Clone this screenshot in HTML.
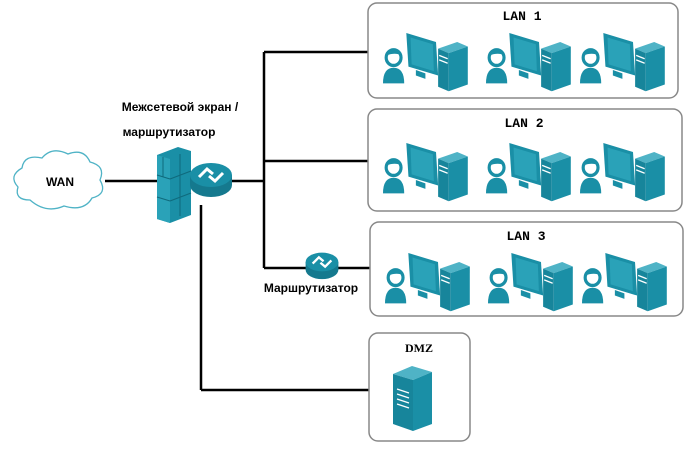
<!DOCTYPE html>
<html><head><meta charset="utf-8"><style>
body{margin:0;background:#fff;width:700px;height:446px;overflow:hidden}
text{font-family:"Liberation Sans",sans-serif}
</style></head><body>
<svg width="700" height="446" viewBox="0 0 700 446" xmlns="http://www.w3.org/2000/svg">
<defs>
<g id="pc0">
 <circle cx="10" cy="22" r="7" fill="#fff" stroke="#1a8fa6" stroke-width="3"/>
 <path d="M3 20 Q5 13 12 14 Q17 15 17 20 Q12 17 3 20Z" fill="#1a8fa6"/>
 <path d="M0 45 Q0 31 10 31 Q20 31 20 45Z" fill="#1a8fa6"/>
 <path d="M22 0 L50 8 L52 38 L24 30Z" fill="#1a8fa6"/>
 <path d="M26 4 L47 10 L48 34 L27 28Z" fill="#2aa2b8"/>
 <path d="M31 33 L40 36 L40 41 L31 38Z" fill="#1a8fa6"/>
 <path d="M52 14 L70 8 L80 12 L62 18Z" fill="#4fb3c6"/>
 <path d="M52 14 L62 18 L62 52 L52 48Z" fill="#17859b"/>
 <path d="M62 18 L80 12 L80 46 L62 52Z" fill="#1a8fa6"/>
 <line x1="53" y1="20" x2="61" y2="23" stroke="#fff" stroke-width="1.2"/>
 <line x1="53" y1="24" x2="61" y2="27" stroke="#fff" stroke-width="1.2"/>
</g>
<g id="pc"><g transform="translate(0 -3) scale(1.06 1.12)"><use href="#pc0"/></g></g>
<g id="router">
 <ellipse cx="0" cy="10" rx="21" ry="12" fill="#15798e"/>
 <rect x="-21" y="0" width="42" height="10" fill="#15798e"/>
 <ellipse cx="0" cy="0" rx="21" ry="12" fill="#1a8fa6"/>
 <path d="M-12 2 L-4 -6 L2 -1 M12 -2 L4 6 L-2 1" stroke="#fff" stroke-width="3" fill="none"/>
</g>
</defs>

<g stroke="#000" stroke-width="2.5" fill="none">
 <line x1="105" y1="181" x2="158" y2="181"/>
 <line x1="232" y1="181" x2="264" y2="181"/>
 <line x1="264" y1="52" x2="264" y2="268"/>
 <line x1="264" y1="52" x2="368" y2="52"/>
 <line x1="264" y1="161" x2="368" y2="161"/>
 <line x1="264" y1="268" x2="370" y2="268"/>
 <line x1="201" y1="205" x2="201" y2="390"/>
 <line x1="201" y1="390" x2="369" y2="390"/>
</g>

<g fill="#fff" stroke="#888" stroke-width="1.5">
 <rect x="368" y="3" width="310" height="95" rx="9"/>
 <rect x="368" y="109" width="314" height="102" rx="9"/>
 <rect x="370" y="222" width="313" height="94" rx="9"/>
 <rect x="369" y="333" width="101" height="108" rx="9"/>
</g>
<g font-weight="bold" font-size="13" text-anchor="middle">
 <text x="522" y="20" style="font-family:'Liberation Mono',monospace">LAN 1</text>
 <text x="524" y="127" style="font-family:'Liberation Mono',monospace">LAN 2</text>
 <text x="526" y="240" style="font-family:'Liberation Mono',monospace">LAN 3</text>
 <text x="419" y="352" style="font-family:'Liberation Serif',serif" font-size="12">DMZ</text>
</g>

<use href="#pc" x="383" y="36"/><use href="#pc" x="486" y="36"/><use href="#pc" x="580" y="36"/>
<use href="#pc" x="383" y="146"/><use href="#pc" x="486" y="146"/><use href="#pc" x="580" y="146"/>
<use href="#pc" x="385" y="256"/><use href="#pc" x="488" y="256"/><use href="#pc" x="582" y="256"/>

<path d="M393 374 L412 366 L432 372 L413 380Z" fill="#4fb3c6"/>
<path d="M393 374 L413 380 L413 431 L393 424Z" fill="#17859b"/>
<path d="M413 380 L432 372 L432 424 L413 431Z" fill="#1a8fa6"/>
<g stroke="#fff" stroke-width="1.2"><line x1="397" y1="389" x2="409" y2="393"/><line x1="397" y1="394" x2="409" y2="398"/><line x1="397" y1="399" x2="409" y2="403"/><line x1="397" y1="404" x2="409" y2="408"/></g>

<path d="M30 200 Q14 200 18 187 Q8 176 22 168 Q24 154 42 158 Q52 146 68 154 Q84 148 90 162 Q106 166 100 180 Q108 194 92 198 Q84 212 64 206 Q46 214 30 200Z" fill="#fff" stroke="#4fb3c6" stroke-width="1.3"/>
<text x="60" y="186" font-size="12" font-weight="bold" text-anchor="middle">WAN</text>

<path d="M157 155 L178 147 L191 151 L191 215 L170 223 L157 219Z" fill="#1a8fa6"/>
<path d="M157 155 L170 159 L170 223 L157 219Z" fill="#2aa2b8"/>
<g stroke="#0f6a7c" stroke-width="1"><line x1="157" y1="175" x2="170" y2="179"/><line x1="157" y1="197" x2="170" y2="201"/><line x1="170" y1="179" x2="191" y2="171"/><line x1="170" y1="201" x2="191" y2="193"/><line x1="163" y1="157" x2="163" y2="177"/><line x1="180" y1="154" x2="180" y2="216"/></g>
<use href="#router" x="211" y="175"/>
<text x="180" y="111" font-size="12" font-weight="bold" text-anchor="middle">Межсетевой экран /</text>
<text x="169" y="136" font-size="12" font-weight="bold" text-anchor="middle">маршрутизатор</text>

<use href="#router" x="322" y="262" transform="translate(322 262) scale(0.78) translate(-322 -262)"/>
<text x="311" y="292" font-size="12" font-weight="bold" text-anchor="middle">Маршрутизатор</text>
</svg>
</body></html>
